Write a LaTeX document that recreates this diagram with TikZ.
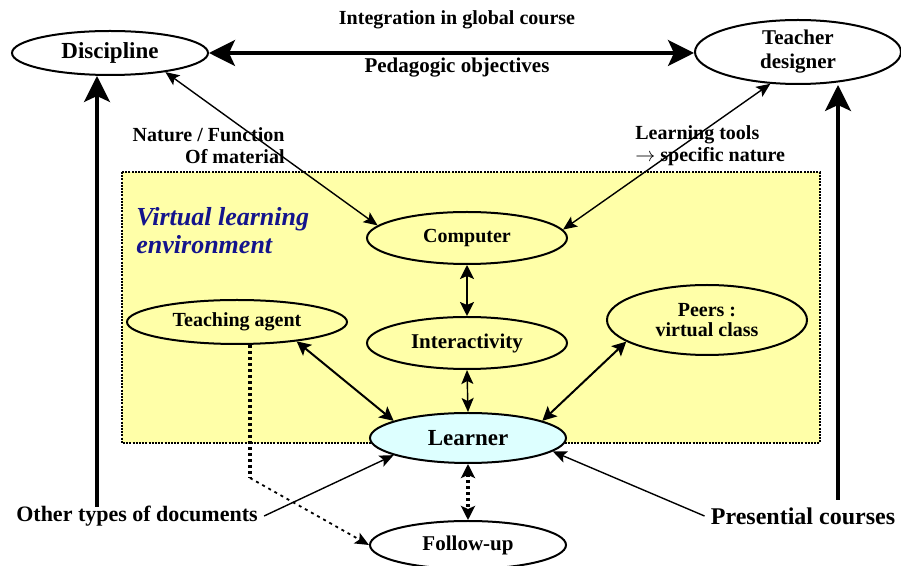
\documentclass[tikz,border=0pt]{standalone}
\usepackage{fontspec}
\setmainfont{Liberation Serif}
\usetikzlibrary{arrows.meta,shapes.geometric}
\definecolor{envyellow}{HTML}{FFFFA8}
\definecolor{learncyan}{HTML}{DDFFFF}
\definecolor{envblue}{HTML}{14148C}
\tikzset{
  oval/.style={ellipse,draw,line width=1pt,inner sep=0pt,align=center,
    font=\fontsize{10.5}{12}\selectfont\bfseries},
  smalloval/.style={oval,font=\fontsize{10}{10}\selectfont\bfseries},
  lbl/.style={inner sep=0pt,font=\fontsize{10}{11}\selectfont\bfseries},
  doclbl/.style={inner sep=3pt,font=\fontsize{11}{12}\selectfont\bfseries},
  bigarrow/.style={line width=1.6pt,>={Stealth[length=13pt,width=13pt,inset=3pt]}},
  midarrow/.style={line width=1pt,>={Stealth[length=7pt,width=7pt,inset=1.5pt]}},
  thinarrow/.style={line width=0.7pt,>={Stealth[length=7pt,width=6pt,inset=1.5pt]}},
  dotline/.style={line width=1.6pt,dash pattern=on 1.5pt off 1.5pt},
}
\begin{document}
\begin{tikzpicture}[x=0.5pt,y=-0.5pt]
  \useasboundingbox[fill=white] (0,0) rectangle (901,566);
  % virtual learning environment
  \draw[fill=envyellow,line width=0.8pt,dash pattern=on 1pt off 0.6pt] (122,172) rectangle (820,443);
  \node[anchor=west,align=left,inner sep=0pt,text=envblue,
        font=\fontsize{13}{14}\selectfont\bfseries\itshape] (vle) at (136,231) {Virtual learning\\environment};

  % nodes
  \node[oval,minimum width=98pt,minimum height=22pt,
        font=\fontsize{11.5}{12}\selectfont\bfseries] (disc) at (110,53) {Discipline};
  \node[oval,minimum width=103pt,minimum height=32pt] (teach) at (798,52) {Teacher\\designer};
  \node[smalloval,minimum width=100pt,minimum height=26pt] (comp) at (467,238) {Computer};
  \node[oval,minimum width=100pt,minimum height=26pt] (inter) at (467,343) {Interactivity};
  \node[smalloval,minimum width=110pt,minimum height=22pt] (agent) at (237,322) {Teaching agent};
  \node[smalloval,minimum width=100pt,minimum height=35pt] (peers) at (707,320) {Peers :\\virtual class};
  \node[oval,fill=learncyan,minimum width=98pt,minimum height=25pt,
        font=\fontsize{11.5}{13}\selectfont\bfseries] (learn) at (468,438) {Learner};
  \node[oval,fill=white,minimum width=98pt,minimum height=24pt] (follow) at (468,545) {Follow-up};
  \node[doclbl] (other) at (137,516) {Other types of documents};
  \node[doclbl,font=\fontsize{12}{12}\selectfont\bfseries] (pres) at (803,516) {Presential courses};

  % labels
  \node[lbl] (integr) at (457,20) {Integration in global course};
  \node[lbl,font=\fontsize{10.5}{10}\selectfont\bfseries] (pedag) at (457,68) {Pedagogic objectives};
  \node[lbl,anchor=east,align=right] (nature) at (285,146) {Nature / Function\\Of material};
  \node[lbl,anchor=west,align=left] (tools) at (635,146) {Learning tools\\$\rightarrow$ specific nature};

  % connectors
  \coordinate (dfoot) at (97,507);
  \coordinate (tfoot) at (838,500);
  \coordinate (bend) at (250,478);
  \draw[bigarrow,<->] (disc.east) -- (disc.east -| teach.west);
  \draw[bigarrow,->] (dfoot) -- (dfoot |- disc.south);
  \draw[bigarrow,->] (tfoot) -- (tfoot |- teach.south);
  \draw[thinarrow,<->] (disc.-19) -- (comp.172);
  \draw[thinarrow,<->] (teach.-131) -- (comp.5);
  \draw[midarrow,<->] (comp.south) -- (inter.north);
  \draw[thinarrow,<->] (inter.south) -- (learn.north);
  \draw[midarrow,<->] (agent.-18) -- (learn.167);
  \draw[midarrow,<->] (peers.-165) -- (learn.13);
  \draw[thinarrow,->] (other.east) -- (learn.-167);
  \draw[thinarrow,->] (pres.west) -- (learn.-9);
  \draw[dotline] (agent.south -| bend) -- (bend);
  \draw[thinarrow,->,line width=0.9pt,dash pattern=on 1.5pt off 2pt] (bend) -- (follow.west);
  \draw[dotline,<->,>={Stealth[length=7pt,width=7pt,inset=1.5pt]}] (learn.south) -- (follow.north);
\end{tikzpicture}
\end{document}
